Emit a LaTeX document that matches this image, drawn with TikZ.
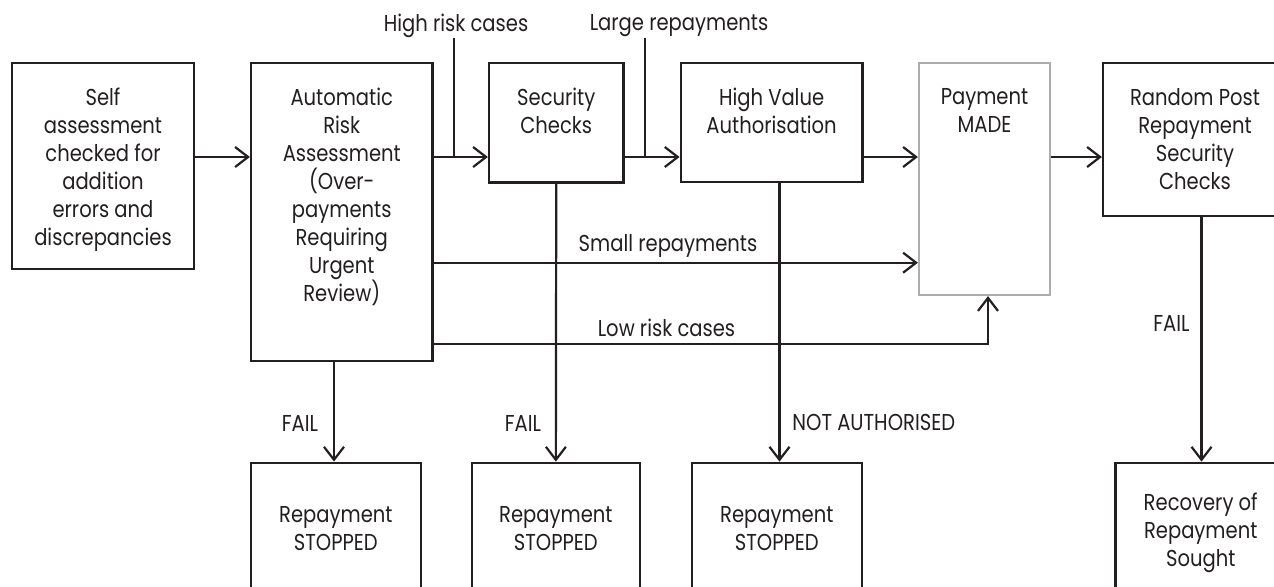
\documentclass[tikz,border=0pt]{standalone}
\usepackage{fontspec}
\setmainfont{Poppins}[FakeStretch=0.85]
\usetikzlibrary{arrows.meta,fit,calc}
\definecolor{ink}{HTML}{231F20}
\definecolor{paygray}{HTML}{ABADB0}
\begin{document}
\begin{tikzpicture}[x=0.5pt,y=-0.5pt,
  box/.style={draw=ink, line width=1.1pt, inner sep=0pt},
  graybox/.style={draw=paygray, line width=1.1pt, inner sep=0pt},
  txt/.style={font=\fontsize{11.5}{14}\selectfont, text=ink, align=center, inner sep=0pt},
  conn/.style={draw=ink, line width=1.1pt},
  arr/.style={conn, -{Straight Barb[length=6.5pt,width=10pt]}}]
\useasboundingbox (0,0) rectangle (1274,586);
\fill[white] (0,0) rectangle (1274,586);
\begin{scope}
\clip (0,0) rectangle (1274,586);
% boxes
\node[box, fit={(12,63) (194,269)}] (b1) {};
\node[box, fit={(251,63) (432.5,360.7)}] (b2) {};
\node[box, fit={(489,63) (623.5,182.5)}] (sec) {};
\node[box, fit={(680.7,63) (862.5,182)}] (hv) {};
\node[graybox, fit={(919,63) (1050,295)}] (pay) {};
\node[box, fit={(1103,63) (1287,215.7)}] (rp) {};
\node[box, fit={(251,462.7) (420.7,600)}] (s1) {};
\node[box, fit={(471.7,462.7) (640,600)}] (s2) {};
\node[box, fit={(692,462.7) (861.6,600)}] (s3) {};
\node[box, fit={(1115.4,462.7) (1286,620)}] (rec) {};
% box texts
\node[txt, anchor=north] (t1) at ($(b1.north)+(0,26)$) {Self\\assessment\\checked for\\addition\\errors and\\discrepancies};
\node[txt, anchor=north] (t2) at ($(b2.north)+(0,26)$) {Automatic\\Risk\\Assessment\\(Over-\\payments\\Requiring\\Urgent\\Review)};
\node[txt, anchor=north] (t3) at ($(sec.north)+(0,26)$) {Security\\Checks};
\node[txt, anchor=north] (t4) at ($(hv.north)+(0,26)$) {High Value\\Authorisation};
\node[txt, anchor=north] (t5) at ($(pay.north)+(0,26)$) {Payment\\MADE};
\node[txt, anchor=north] (t6) at ($(rp.north)+(0,26)$) {Random Post\\Repayment\\Security\\Checks};
\node[txt, anchor=north] (t7) at ($(s1.north)+(0,44)$) {Repayment\\STOPPED};
\node[txt, anchor=north] (t8) at ($(s2.north)+(0,44)$) {Repayment\\STOPPED};
\node[txt, anchor=north] (t9) at ($(s3.north)+(0,44)$) {Repayment\\STOPPED};
\node[txt, anchor=north] (t10) at ($(rec.north)+(0,31)$) {Recovery of\\Repayment\\Sought};
% labels
\node[txt] (hr) at (456,26) {High risk cases};
\node[txt] (lr) at (679,26) {Large repayments};
\node[txt] (sm) at (668,246) {Small repayments};
\node[txt] (lo) at (666.5,328) {Low risk cases};
\node[txt] (f1) at (300,423) {FAIL};
\node[txt] (f2) at (523,423) {FAIL};
\node[txt, anchor=west] (na) at (792,422) {NOT AUTHORISED};
\node[txt] (f3) at (1171.5,323) {FAIL};
% helper coordinates
\coordinate (row) at (0,157);
\coordinate (tk1) at (454,157);
\coordinate (tk2) at (645,157);
\coordinate (rsmall) at (0,262.7);
\coordinate (lowc) at (988,344);
\coordinate (c1) at (334,0);
\coordinate (c3) at (779.5,0);
\coordinate (c4) at (1201.5,0);
% connectors
\draw[arr] (b1.east |- row) -- (b2.west |- row);
\draw[arr] (b2.east |- row) -- (sec.west |- row);
\draw[conn] (tk1 |- 0,38) -- (tk1);
\draw[arr] (sec.east |- row) -- (hv.west |- row);
\draw[conn] (tk2 |- 0,38) -- (tk2);
\draw[arr] (hv.east |- row) -- (pay.west |- row);
\draw[arr] (pay.east |- row) -- (rp.west |- row);
\draw[arr] (b2.east |- rsmall) -- (pay.west |- rsmall);
\draw[arr] (b2.east |- lowc) -- (lowc) -- (pay.south -| lowc);
\draw[arr] (b2.south -| c1) -- (s1.north -| c1);
\draw[arr] (sec.south) -- (s2.north);
\draw[arr] (hv.south -| c3) -- (s3.north -| c3);
\draw[arr] (rp.south -| c4) -- (rec.north -| c4);
\end{scope}
\end{tikzpicture}
\end{document}
